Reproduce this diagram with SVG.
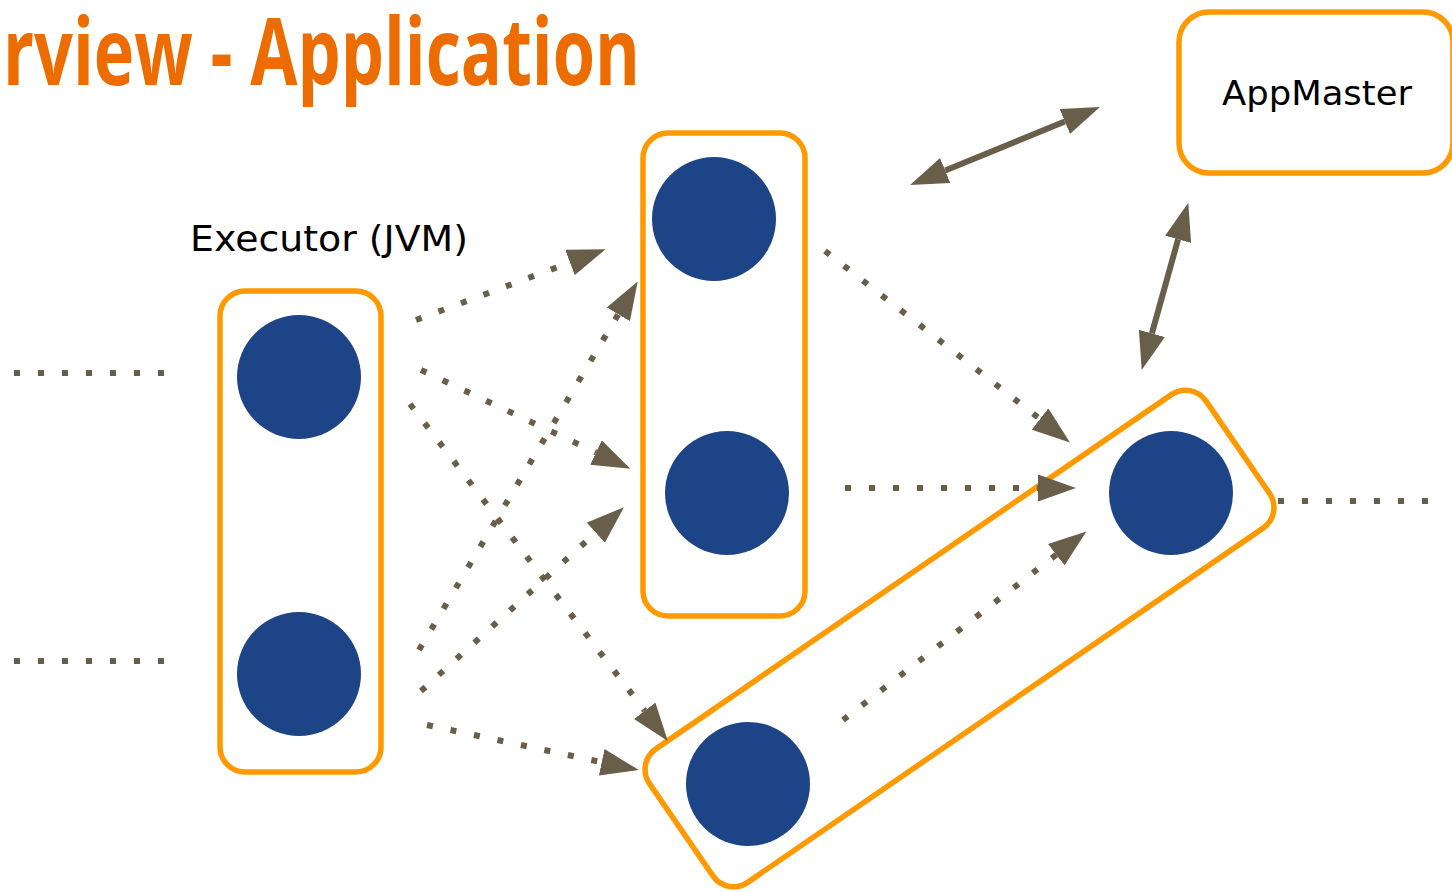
<svg xmlns="http://www.w3.org/2000/svg" width="1452" height="892" viewBox="0 0 1452 892">
  <style>
    .box { fill: #ffffff; stroke: #FF9900; stroke-width: 5.5; }
    .dot { fill: #1D4486; }
    .dotted { fill: none; stroke: #695E49; stroke-width: 6; stroke-dasharray: 6 18; }
    .solid { fill: none; stroke: #695E49; stroke-width: 6; }
    .title { font-family: "Open Sans", "Liberation Sans", sans-serif; font-weight: bold; fill: #EC6C00; }
    .hand { font-family: "DejaVu Sans", "Liberation Sans", sans-serif; fill: #000000; }
  </style>
  <defs>
    <marker id="ah" markerUnits="userSpaceOnUse" viewBox="0 0 38 27" markerWidth="38" markerHeight="27" refX="0" refY="13.5" orient="auto-start-reverse">
      <path d="M0,0 L38,13.5 L0,27 z" fill="#695E49"/>
    </marker>
  </defs>
  <rect x="0" y="0" width="1452" height="892" fill="#ffffff"/>

  <g id="title">
    <text class="title" x="3" y="85" font-size="93" textLength="637" lengthAdjust="spacingAndGlyphs">rview - Application</text>
  </g>

  <g id="executor-label">
    <text class="hand" x="190" y="251" font-size="36" textLength="278" lengthAdjust="spacingAndGlyphs">Executor (JVM)</text>
  </g>

  <g id="appmaster">
    <rect class="box" x="1179" y="12" width="274" height="161" rx="30" ry="30"/>
    <text class="hand" x="1222" y="105" font-size="34" textLength="190" lengthAdjust="spacingAndGlyphs">AppMaster</text>
  </g>

  <g id="executor1">
    <rect class="box" x="220" y="291" width="161" height="481" rx="25" ry="25"/>
    <circle class="dot" cx="299" cy="377" r="62"/>
    <circle class="dot" cx="299" cy="674" r="62"/>
  </g>

  <g id="executor2">
    <rect class="box" x="643" y="133" width="162" height="483" rx="25" ry="25"/>
    <circle class="dot" cx="714" cy="219" r="62"/>
    <circle class="dot" cx="727" cy="493" r="62"/>
  </g>

  <g id="executor3">
    <rect class="box" x="-337.7" y="-81" width="675.4" height="162" rx="25" ry="25" transform="translate(959.5,638.5) rotate(-34.5)"/>
    <circle class="dot" cx="1171" cy="493" r="62"/>
    <circle class="dot" cx="748" cy="784" r="62"/>
  </g>

  <g id="connectors">
    <path class="solid" d="M945.2,170.6 L1064.8,121.4" marker-start="url(#ah)" marker-end="url(#ah)"/>
    <path class="solid" d="M1151.9,333.4 L1178.1,239.3" marker-start="url(#ah)" marker-end="url(#ah)"/>

    <path class="dotted" d="M416,320 L570,262.5" marker-end="url(#ah)"/>
    <path class="dotted" d="M421,370 L596,452.5" marker-end="url(#ah)"/>
    <path class="dotted" d="M410,404 L644.7,710.8" marker-end="url(#ah)"/>
    <path class="dotted" d="M419,650 L618.3,314.3" marker-end="url(#ah)"/>
    <path class="dotted" d="M421,691 L595.8,532.7" marker-end="url(#ah)"/>
    <path class="dotted" d="M427,725 L601.7,762.2" marker-end="url(#ah)"/>
    <path class="dotted" d="M825,251 L1040,419" marker-end="url(#ah)"/>
    <path class="dotted" d="M845,488 L1038,488" marker-end="url(#ah)"/>
    <path class="dotted" d="M843,720 L1056.3,554.7" marker-end="url(#ah)"/>

    <path class="dotted" d="M14,373 L170,373"/>
    <path class="dotted" d="M14,661 L170,661"/>
    <path class="dotted" d="M1278,501 L1432,501"/>
  </g>
</svg>
